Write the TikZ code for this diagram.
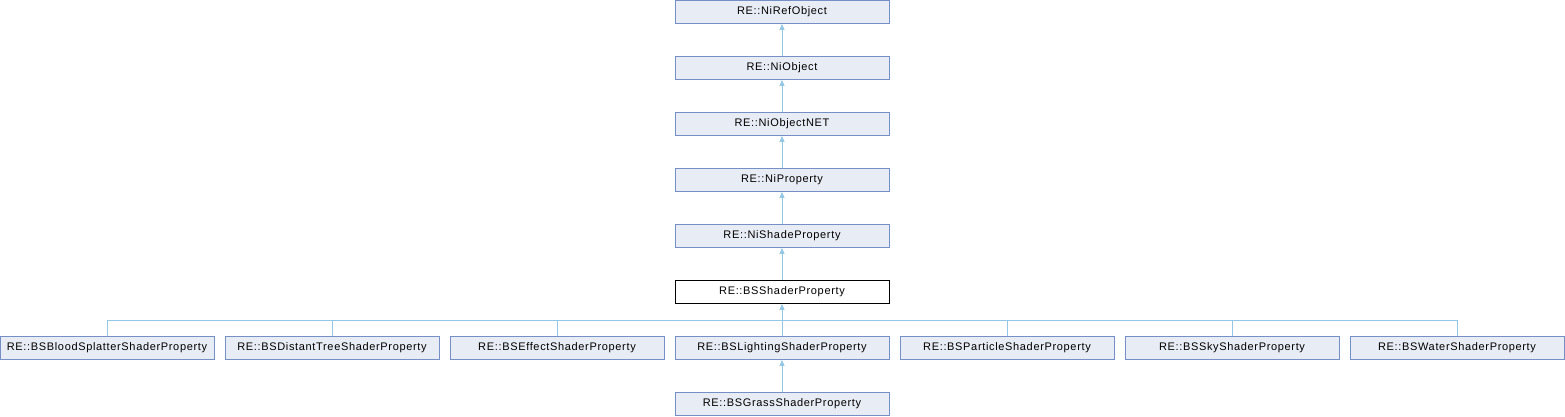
\documentclass[tikz,border=0pt]{standalone}
\usepackage{fontspec}
\setmainfont{Liberation Sans}
\newfontfamily\dxfont[LetterSpace=6]{Liberation Sans}
\usetikzlibrary{arrows.meta}
\definecolor{boxfill}{HTML}{E8ECF5}
\definecolor{boxline}{HTML}{7590C7}
\definecolor{linkc}{HTML}{94C6E6}
\tikzset{
  cls/.style={draw=boxline, fill=boxfill, line width=0.9pt, minimum width=214pt, minimum height=23pt, inner sep=0pt, font=\dxfont\fontsize{11pt}{13pt}\selectfont},
  cur/.style={cls, draw=black, fill=white},
  link/.style={draw=linkc, line width=0.9pt},
  inh/.style={link, -{Triangle[length=6pt,width=5pt]}},
}
\begin{document}
\begin{tikzpicture}[x=1pt,y=1pt]
\useasboundingbox (0,0) rectangle (1565,-416);
\node[cls] (ref) at (782,-12) {RE::NiRefObject};
\node[cls] (obj) at (782,-68) {RE::NiObject};
\node[cls] (net) at (782,-124) {RE::NiObjectNET};
\node[cls] (prop) at (782,-180) {RE::NiProperty};
\node[cls] (shade) at (782,-236) {RE::NiShadeProperty};
\node[cur] (bss) at (782,-292) {RE::BSShaderProperty};
\node[cls] (blood) at (107,-348) {RE::BSBloodSplatterShaderProperty};
\node[cls] (tree) at (332,-348) {RE::BSDistantTreeShaderProperty};
\node[cls] (effect) at (557,-348) {RE::BSEffectShaderProperty};
\node[cls] (light) at (782,-348) {RE::BSLightingShaderProperty};
\node[cls] (part) at (1007,-348) {RE::BSParticleShaderProperty};
\node[cls] (sky) at (1232,-348) {RE::BSSkyShaderProperty};
\node[cls] (water) at (1457,-348) {RE::BSWaterShaderProperty};
\node[cls] (grass) at (782,-404) {RE::BSGrassShaderProperty};
\coordinate (bus) at (782,-320);
\draw[inh] (obj.north) -- (ref.south);
\draw[inh] (net.north) -- (obj.south);
\draw[inh] (prop.north) -- (net.south);
\draw[inh] (shade.north) -- (prop.south);
\draw[inh] (bss.north) -- (shade.south);
\draw[inh] (grass.north) -- (light.south);
\foreach \c in {blood,tree,effect,part,sky,water} {
  \draw[link] (\c.north) |- (bus);
}
\draw[inh] (light.north) -- (bss.south);
\end{tikzpicture}
\end{document}
